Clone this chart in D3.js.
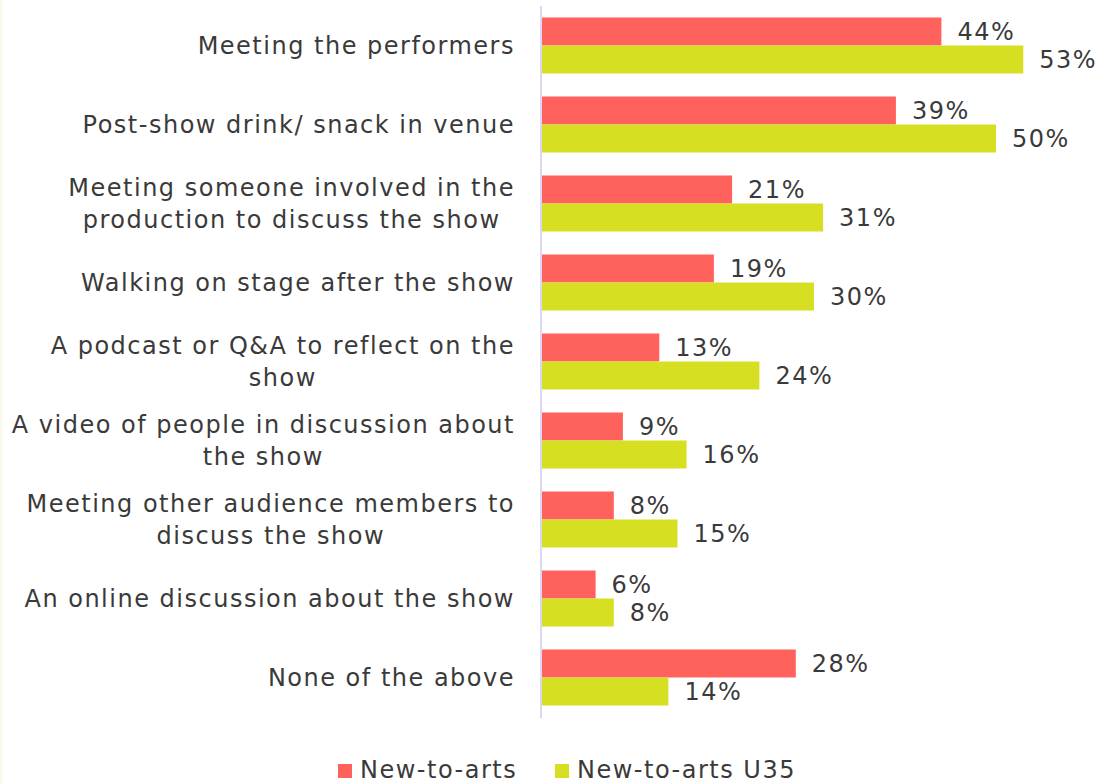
<!DOCTYPE html>
<html><head><meta charset="utf-8">
<script src="https://cdn.jsdelivr.net/npm/d3@7"></script>
<style>
html,body{margin:0;padding:0;background:#fff;}
svg{display:block;}
text{font-family:"DejaVu Sans",sans-serif;fill:#3a3a3a;letter-spacing:1.5px;}
</style></head>
<body>
<svg id="chart" width="1115" height="784"></svg>
<script>
const categories = [
  ["Meeting the performers"],
  ["Post-show drink/ snack in venue"],
  ["Meeting someone involved in the","production to discuss the show"],
  ["Walking on stage after the show"],
  ["A podcast or Q&A to reflect on the","show"],
  ["A video of people in discussion about","the show"],
  ["Meeting other audience members to","discuss the show"],
  ["An online discussion about the show"],
  ["None of the above"]
];
const seriesNames = ["New-to-arts","New-to-arts U35"];
const newToArts = [44,39,21,19,13,9,8,6,28];
const newToArtsU35 = [53,50,31,30,24,16,15,8,14];
const colors = ["#ff625c","#d7df23"];

const svg = d3.select("#chart");
svg.append("rect").attr("x",0).attr("y",0).attr("width",3).attr("height",784).attr("fill","#fbf9ea");

const x0 = 541;
const x = d3.scaleLinear().domain([0,60]).range([x0, x0+546]);
const y = d3.scaleBand().domain(d3.range(categories.length)).range([6,717]).paddingInner(0).paddingOuter(0);
const barH = 28;
const fontSize = 24;

svg.append("line").attr("x1",x0).attr("x2",x0).attr("y1",6).attr("y2",718)
  .attr("stroke","#dcd8f4").attr("stroke-width",2);

const series = [newToArts,newToArtsU35];
categories.forEach((cat,i)=>{
  const c = y(i)+y.bandwidth()/2;
  series.forEach((vals,s)=>{
    const top = c - barH + s*barH;
    svg.append("rect").attr("x",x0+1).attr("y",top)
      .attr("width",x(vals[i])-x0-1).attr("height",barH).attr("fill",colors[s]);
    svg.append("text").attr("x",x(vals[i])+16).attr("y",top+barH/2)
      .attr("dy","0.36em").attr("font-size",fontSize).text(vals[i]+"%");
  });
  const g = svg.append("g");
  const lineH = 32;
  const texts = cat.map((t,k)=> g.append("text").attr("font-size",fontSize).text(t));
  const maxW = d3.max(texts, t=>t.node().getComputedTextLength());
  const right = 515;
  texts.forEach((t,k)=>{
    const yy = c + (k - (cat.length-1)/2)*lineH;
    if(cat.length===1){
      t.attr("x",right).attr("text-anchor","end");
    } else {
      t.attr("x",right - maxW/2).attr("text-anchor","middle");
    }
    t.attr("y",yy).attr("dy","0.36em");
  });
});

const legX = [338,555];
seriesNames.forEach((n,s)=>{
  svg.append("rect").attr("x",legX[s]).attr("y",764).attr("width",14).attr("height",14).attr("fill",colors[s]);
  svg.append("text").attr("x",legX[s]+22).attr("y",778).attr("font-size",fontSize).text(n);
});
</script>
</body></html>
